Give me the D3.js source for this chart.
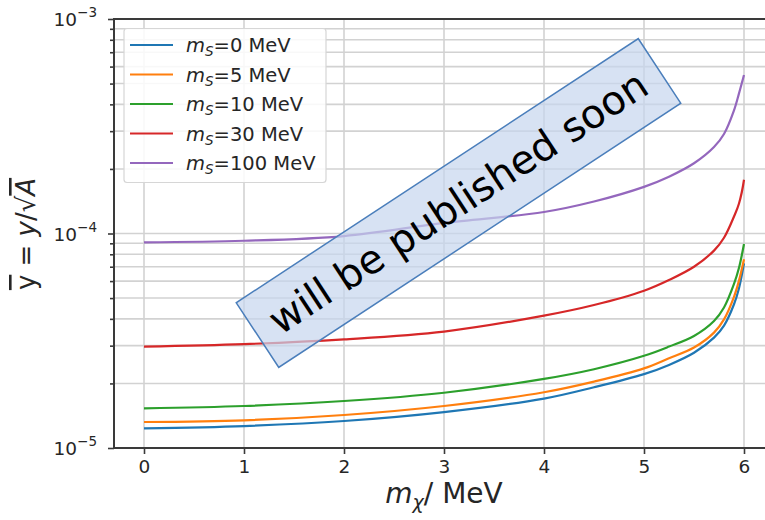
<!DOCTYPE html>
<html>
<head>
<meta charset="utf-8">
<script src="https://cdn.jsdelivr.net/npm/d3@7"></script>
<style>
  html, body { margin: 0; padding: 0; background: #ffffff; }
  svg { display: block; }
  text { font-family: "DejaVu Sans", sans-serif; }
</style>
</head>
<body>
<script>
// Dark-matter mass grid (MeV)
const massChi = [0, 1, 2, 3, 4, 4.5, 5, 5.25, 5.5, 5.7, 5.8, 5.9, 5.95, 6];

// Mediator masses shown in the legend (MeV)
const mediatorMasses = [0, 5, 10, 30, 100];

// ȳ for each mediator mass, sampled on massChi
const yBar_ms0   = [1.235e-5, 1.266e-5, 1.336e-5, 1.47e-5, 1.70e-5, 1.92e-5, 2.21e-5, 2.44e-5, 2.78e-5, 3.27e-5, 3.72e-5, 4.68e-5, 5.56e-5, 7.26e-5];
const yBar_ms5   = [1.322e-5, 1.346e-5, 1.425e-5, 1.57e-5, 1.82e-5, 2.04e-5, 2.35e-5, 2.62e-5, 2.94e-5, 3.45e-5, 3.98e-5, 5.07e-5, 6.03e-5, 7.58e-5];
const yBar_ms10  = [1.531e-5, 1.57e-5, 1.656e-5, 1.81e-5, 2.10e-5, 2.33e-5, 2.69e-5, 2.97e-5, 3.33e-5, 3.91e-5, 4.52e-5, 5.82e-5, 6.92e-5, 8.93e-5];
const yBar_ms30  = [2.97e-5, 3.05e-5, 3.21e-5, 3.49e-5, 4.14e-5, 4.64e-5, 5.41e-5, 6.07e-5, 7.0e-5, 8.32e-5, 9.55e-5, 1.20e-4, 1.38e-4, 1.78e-4];
const yBar_ms100 = [9.1e-5, 9.25e-5, 9.73e-5, 1.12e-4, 1.26e-4, 1.41e-4, 1.65e-4, 1.84e-4, 2.125e-4, 2.53e-4, 2.91e-4, 3.75e-4, 4.5e-4, 5.48e-4];

const seriesValues = [yBar_ms0, yBar_ms5, yBar_ms10, yBar_ms30, yBar_ms100];
const seriesColors = ["#1f77b4", "#ff7f0e", "#2ca02c", "#d62728", "#9467bd"];

// Axis ticks
const xTicks = [0, 1, 2, 3, 4, 5, 6];
const yMajorExponents = [-5, -4, -3];

const W = 765, H = 520;
const plot = { left: 114, right: 774, top: 19, bottom: 448 };

const svg = d3.select("body").append("svg")
  .attr("width", W).attr("height", H)
  .attr("viewBox", `0 0 ${W} ${H}`);

const x = d3.scaleLinear().domain([-0.3, 6.3]).range([plot.left, plot.right]);
const y = d3.scaleLog().domain([1e-5, 1e-3]).range([plot.bottom, plot.top]);

// Minor decade positions 2..9 × 10^k
const yMinor = [];
[-5, -4].forEach(e => { for (let k = 2; k <= 9; k++) yMinor.push(k * Math.pow(10, e)); });
const yMajor = yMajorExponents.map(e => Math.pow(10, e));

// Grid
const grid = svg.append("g").attr("stroke", "#d2d2d2").attr("stroke-width", 1.6);
grid.selectAll("line.v").data(xTicks).join("line")
  .attr("x1", d => x(d)).attr("x2", d => x(d))
  .attr("y1", plot.top).attr("y2", plot.bottom);
grid.selectAll("line.h").data(yMajor.concat(yMinor)).join("line")
  .attr("x1", plot.left).attr("x2", plot.right)
  .attr("y1", d => y(d)).attr("y2", d => y(d));

// Curves
const line = d3.line()
  .x(d => x(d[0]))
  .y(d => y(d[1]))
  .curve(d3.curveCatmullRom.alpha(0.5));

svg.append("g").selectAll("path").data(seriesValues).join("path")
  .attr("d", vals => line(massChi.map((m, i) => [m, vals[i]])))
  .attr("fill", "none")
  .attr("stroke", (d, i) => seriesColors[i])
  .attr("stroke-width", 2.2)
  .attr("stroke-linejoin", "round")
  .attr("stroke-linecap", "butt");

// Axes
const axisColor = "#3a3a3a";
const xAxis = svg.append("g").attr("transform", `translate(0,${plot.bottom})`)
  .call(d3.axisBottom(x).tickValues(xTicks).tickSize(6).tickPadding(6).tickFormat(d3.format("d")));
const yAxis = svg.append("g").attr("transform", `translate(${plot.left},0)`)
  .call(d3.axisLeft(y).tickValues(yMajor).tickSize(6).tickFormat(() => ""));
const yAxisMinor = svg.append("g").attr("transform", `translate(${plot.left},0)`)
  .call(d3.axisLeft(y).tickValues(yMinor).tickSize(4).tickFormat(() => ""));

[xAxis, yAxis, yAxisMinor].forEach(g => {
  g.select(".domain").remove();
  g.selectAll(".tick line").attr("stroke", axisColor).attr("stroke-width", 1.6);
});
xAxis.selectAll(".tick text")
  .attr("font-size", 18.5).attr("fill", "#262626")
  .attr("font-family", "DejaVu Sans, sans-serif");

// Y tick labels 10^k
yMajorExponents.forEach(e => {
  const t = svg.append("text")
    .attr("x", plot.left - 17).attr("y", y(Math.pow(10, e)) + 7)
    .attr("text-anchor", "end")
    .attr("font-size", 18.5).attr("fill", "#262626");
  t.append("tspan").text("10");
  t.append("tspan").attr("dy", -9).attr("font-size", 13.5).text("\u2212" + Math.abs(e));
});

// Spines
const spines = svg.append("g").attr("stroke", axisColor).attr("stroke-width", 2).attr("fill", "none");
spines.append("line").attr("x1", plot.left).attr("x2", plot.left).attr("y1", plot.top).attr("y2", plot.bottom);
spines.append("line").attr("x1", plot.left - 1).attr("x2", plot.right).attr("y1", plot.bottom).attr("y2", plot.bottom);
spines.append("line").attr("x1", plot.left - 1).attr("x2", plot.right).attr("y1", plot.top).attr("y2", plot.top);

// Axis titles
const xTitle = svg.append("text")
  .attr("x", 444).attr("y", 503)
  .attr("text-anchor", "middle").attr("font-size", 28).attr("fill", "#262626");
xTitle.append("tspan").attr("font-style", "italic").text("m");
xTitle.append("tspan").attr("font-style", "italic").attr("font-size", 19).attr("dy", 6).text("\u03c7");
xTitle.append("tspan").attr("dy", -6).text("/ MeV");

const yTitle = svg.append("text")
  .attr("transform", "translate(35,234) rotate(-90)")
  .attr("text-anchor", "middle").attr("font-size", 26).attr("fill", "#262626");
yTitle.append("tspan").attr("text-decoration", "overline").text("y");
yTitle.append("tspan").text(" = ");
yTitle.append("tspan").attr("font-style", "italic").text("y");
yTitle.append("tspan").text("/\u221a");
yTitle.append("tspan").attr("text-decoration", "overline").attr("font-style", "italic").text("A");

// Legend
const legend = svg.append("g");
legend.append("rect")
  .attr("x", 124).attr("y", 28.5).attr("width", 202).attr("height", 154)
  .attr("rx", 3).attr("fill", "#ffffff").attr("fill-opacity", 0.85)
  .attr("stroke", "#d6d6d6").attr("stroke-width", 1.2);
const rows = legend.selectAll("g.row").data(mediatorMasses).join("g")
  .attr("transform", (d, i) => `translate(0,${45 + i * 29.5})`);
rows.append("line").attr("x1", 130).attr("x2", 173).attr("y1", 0).attr("y2", 0)
  .attr("stroke", (d, i) => seriesColors[i]).attr("stroke-width", 2.2);
rows.each(function (d) {
  const t = d3.select(this).append("text")
    .attr("x", 186).attr("y", 7).attr("font-size", 19.5).attr("fill", "#262626");
  t.append("tspan").attr("font-style", "italic").text("m");
  t.append("tspan").attr("font-style", "italic").attr("font-size", 13.5).attr("dy", 4).text("S");
  t.append("tspan").attr("dy", -4).text("=" + d + " MeV");
});

// Notice banner
const banner = svg.append("g").attr("transform", "translate(458.5,203) rotate(-33.3)");
banner.append("rect")
  .attr("x", -240.5).attr("y", -38.7).attr("width", 481).attr("height", 77.4)
  .attr("fill", "#c6d6ee").attr("fill-opacity", 0.7)
  .attr("stroke", "#4a7ebb").attr("stroke-width", 1.5);
banner.append("text")
  .attr("x", 0).attr("y", 13)
  .attr("text-anchor", "middle")
  .attr("font-family", "Lato, 'Open Sans', sans-serif")
  .attr("font-size", 40).attr("fill", "#000000")
  .text("will be published soon");
</script>
</body>
</html>
